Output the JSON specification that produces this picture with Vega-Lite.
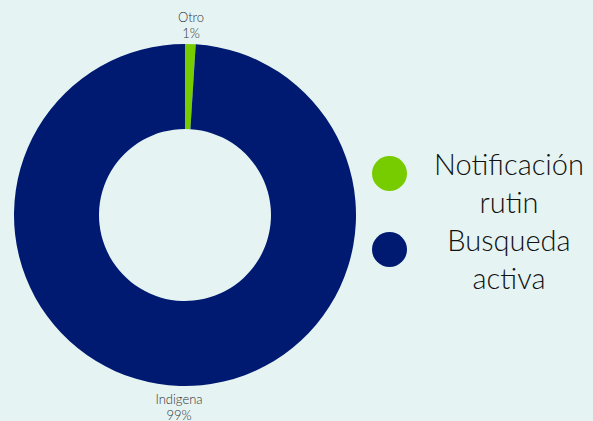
{
  "$schema": "https://vega.github.io/schema/vega-lite/v6.json",
  "width": 370,
  "height": 430,
  "autosize": "none",
  "padding": {"left": 0, "top": 0, "right": 223, "bottom": 0},
  "background": "#E5F4F3",
  "view": {"stroke": null},
  "data": {
    "values": [
      {"categoria": "Otro", "leyenda": "Notificación rutin", "valor": 1, "pct": "1%"},
      {"categoria": "Indigena", "leyenda": "Busqueda activa", "valor": 99, "pct": "99%"}
    ]
  },
  "encoding": {
    "theta": {"field": "valor", "type": "quantitative", "stack": true},
    "order": {"field": "valor", "sort": "ascending"}
  },
  "layer": [
    {
      "mark": {"type": "arc", "innerRadius": 86, "outerRadius": 171},
      "encoding": {
        "color": {
          "field": "leyenda",
          "type": "nominal",
          "scale": {"domain": ["Notificación rutin", "Busqueda activa"], "range": ["#77CC00", "#001A72"]},
          "legend": {
            "title": null,
            "orient": "none",
            "legendX": 372,
            "legendY": 156,
            "symbolType": "circle",
            "symbolSize": 1225,
            "symbolStrokeWidth": 0,
            "labelExpr": "split(datum.label, ' ')",
            "labelFont": "Lato",
            "labelFontWeight": 300,
            "labelFontSize": 29,
            "labelColor": "#111111",
            "labelAlign": "center",
            "labelOffset": 102,
            "labelLimit": 0,
            "rowPadding": 8,
            "encode": {"labels": {"update": {"lineHeight": {"value": 38}, "dy": {"value": -8}}}}
          }
        }
      }
    },
    {
      "mark": {"type": "text", "radius": 191, "dy": -6, "font": "Lato", "fontWeight": 300, "fontSize": 13, "color": "#333333"},
      "encoding": {"text": {"field": "categoria", "type": "nominal"}}
    },
    {
      "mark": {"type": "text", "radius": 191, "dy": 10, "font": "Lato", "fontWeight": 300, "fontSize": 13, "color": "#333333"},
      "encoding": {"text": {"field": "pct", "type": "nominal"}}
    }
  ]
}
